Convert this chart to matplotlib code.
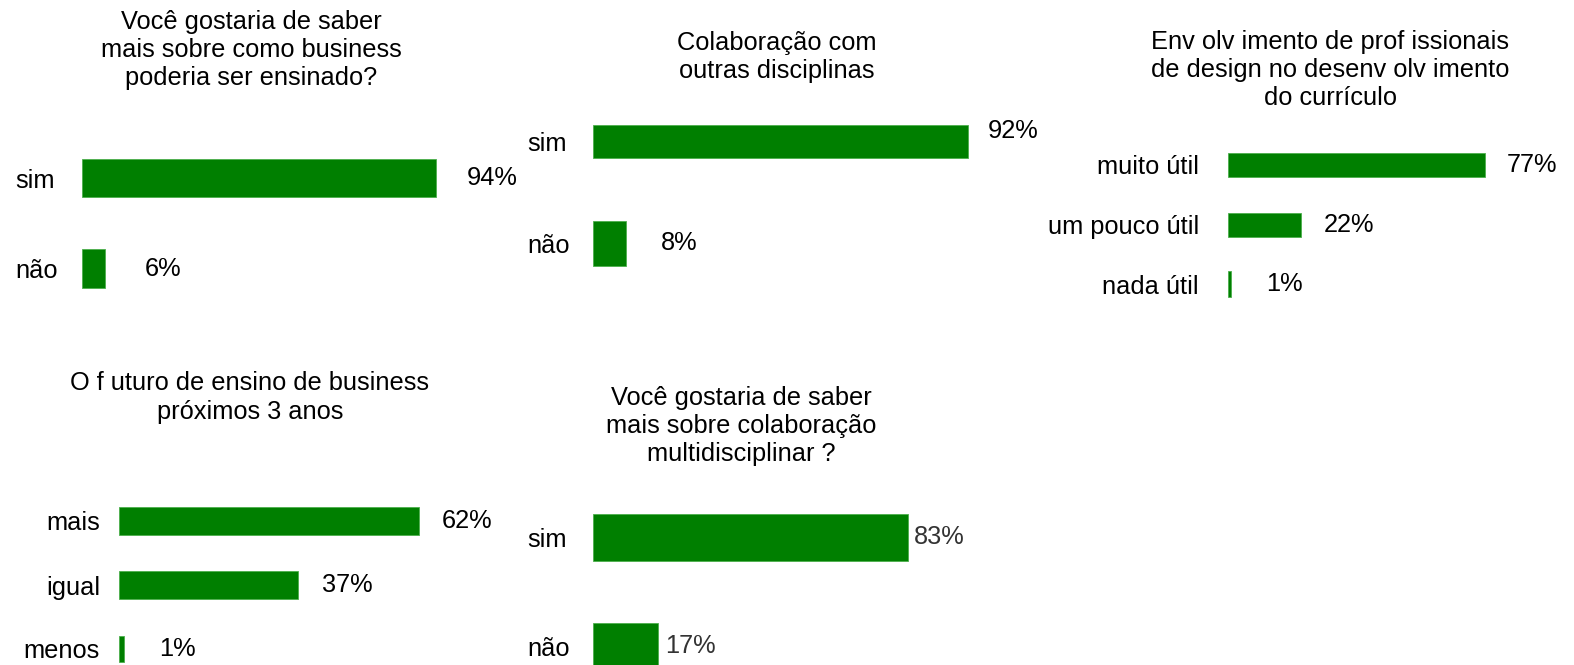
import matplotlib
matplotlib.use("Agg")
import matplotlib.pyplot as plt

plt.rcParams['font.family'] = ['Liberation Sans', 'DejaVu Sans']

# ---- data ----
title1 = "Você gostaria de saber\nmais sobre como business\npoderia ser ensinado?"
cats1 = ["sim", "não"]
vals1 = [94, 6]

title2 = "Colaboração com\noutras disciplinas"
cats2 = ["sim", "não"]
vals2 = [92, 8]

title3 = "Env olv imento de prof issionais\nde design no desenv olv imento\ndo currículo"
cats3 = ["muito útil", "um pouco útil", "nada útil"]
vals3 = [77, 22, 1]

title4 = "O f uturo de ensino de business\npróximos 3 anos"
cats4 = ["mais", "igual", "menos"]
vals4 = [62, 37, 1]

title5 = "Você gostaria de saber\nmais sobre colaboração\nmultidisciplinar ?"
cats5 = ["sim", "não"]
vals5 = [83, 17]

# ---- layout (pixels) ----
W, H = 1574, 665
DPI = 100
GREEN = '#007f00'
FS = 18.3

fig = plt.figure(figsize=(W / DPI, H / DPI), dpi=DPI)

def px2pt(p):
    return p * 72.0 / DPI

def panel(cats, vals, title, x0, scale, centers, heights, label_mode, label_x,
          title_x, title_y, val_off, val_dy=None, val_color='black'):
    n = len(cats)
    spacing = (centers[-1] - centers[0]) / (n - 1)
    top = centers[0] - spacing / 2
    bottom = centers[-1] + spacing / 2
    width = 100 * scale
    ax = fig.add_axes([x0 / W, 1 - bottom / H, width / W, (bottom - top) / H])
    ax.set_xlim(0, 100)
    ax.set_ylim(n - 0.5, -0.5)
    ys = list(range(n))
    ax.barh(ys, vals, height=[h / spacing for h in heights], color=GREEN,
            edgecolor='#4caf4c', linewidth=0.6)
    for s in ax.spines.values():
        s.set_visible(False)
    ax.set_xticks([])
    ax.set_yticks(ys)
    pad = px2pt(x0 - label_x)
    ax.set_yticklabels(cats, fontsize=FS, ha='left' if label_mode == 'left' else 'right')
    ax.tick_params(axis='y', length=0, pad=pad)
    if val_dy is None:
        val_dy = [0] * n
    for i, v in enumerate(vals):
        ax.annotate(f"{v}%", xy=(v, i), xytext=(px2pt(val_off[i]), -px2pt(val_dy[i])),
                    textcoords='offset points', va='center', ha='left',
                    fontsize=FS, color=val_color, annotation_clip=False)
    fig.text(title_x / W, 1 - title_y / H, title, ha='center', va='center',
             fontsize=FS, linespacing=1.22)
    return ax

panel(cats1, vals1, title1, 82, 354 / 94, [178, 268.5], [38, 39], 'left', 15,
      251, 50, [31, 40])
panel(cats2, vals2, title2, 593, 375 / 92, [141.5, 243.5], [33, 45], 'left', 527,
      777, 57, [20, 35], val_dy=[-10, 0])
panel(cats3, vals3, title3, 1228, 257 / 77, [165, 224, 284], [24, 24, 26], 'right', 1199,
      1330, 70, [22, 22, 35])
panel(cats4, vals4, title4, 119, 300 / 62, [521, 584, 649], [28, 28, 26], 'right', 100,
      250, 397.5, [23, 24, 35])
panel(cats5, vals5, title5, 593, 315 / 83, [537.5, 646], [47, 47], 'left', 527,
      741, 426, [6, 8], val_color='#333333')

fig.savefig("out.png", dpi=DPI, facecolor='white')
